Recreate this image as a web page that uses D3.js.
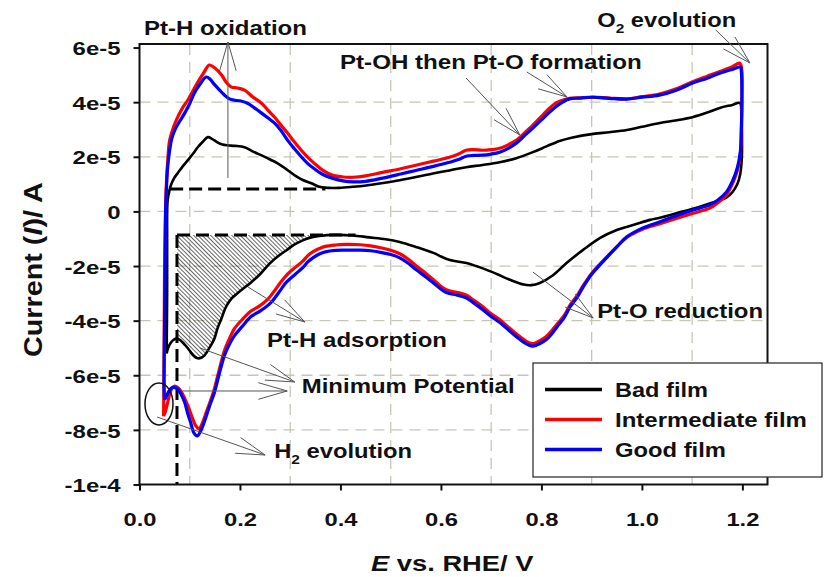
<!DOCTYPE html>
<html>
<head>
<meta charset="utf-8">
<script src="https://cdn.jsdelivr.net/npm/d3@7"></script>
<style>
  body { margin: 0; background: #fff; }
  svg { display: block; font-family: "Liberation Sans", Arial, sans-serif; font-weight: bold; }
</style>
</head>
<body>
<svg id="chart" width="825" height="577"></svg>
<script>
// ---- Axes ----
const potentialDomain = [0, 1.25];          // V vs. RHE
const currentDomain = [-1e-4, 6.13e-5];     // A
const xTicks = [0, 0.2, 0.4, 0.6, 0.8, 1.0, 1.2];
const xTickLabels = ["0.0", "0.2", "0.4", "0.6", "0.8", "1.0", "1.2"];
const yTicks = [-1e-4, -8e-5, -6e-5, -4e-5, -2e-5, 0, 2e-5, 4e-5, 6e-5];
const yTickLabels = ["-1e-4", "-8e-5", "-6e-5", "-4e-5", "-2e-5", "0", "2e-5", "4e-5", "6e-5"];
const xGrid = [0.1, 0.3, 0.5, 0.7, 0.9, 1.1];
const yGrid = [-8e-5, -6e-5, -4e-5, -2e-5, 0, 2e-5, 4e-5];

// ---- Cyclic voltammograms: [E (V), I (A)], anodic sweep then cathodic sweep ----
const badFilm = [
  [0.054,-5.2e-5],[0.055,-3.0e-5],[0.055,-1.0e-5],[0.056,0.4e-5],[0.060,0.8e-5],[0.064,1.03e-5],
  [0.070,1.25e-5],[0.076,1.4e-5],[0.086,1.65e-5],[0.096,1.87e-5],[0.106,2.1e-5],[0.116,2.35e-5],
  [0.126,2.55e-5],[0.136,2.72e-5],[0.145,2.65e-5],[0.155,2.53e-5],[0.165,2.45e-5],[0.175,2.42e-5],
  [0.19,2.4e-5],[0.209,2.35e-5],[0.225,2.2e-5],[0.243,2.05e-5],[0.26,1.9e-5],[0.275,1.76e-5],
  [0.292,1.55e-5],[0.309,1.32e-5],[0.325,1.15e-5],[0.342,1.03e-5],[0.358,0.9e-5],[0.375,0.86e-5],
  [0.398,0.86e-5],[0.425,0.9e-5],[0.451,0.95e-5],[0.485,1.04e-5],[0.518,1.14e-5],[0.55,1.26e-5],
  [0.584,1.39e-5],[0.617,1.5e-5],[0.65,1.62e-5],[0.683,1.7e-5],[0.717,1.8e-5],[0.75,1.95e-5],
  [0.783,2.17e-5],[0.81,2.38e-5],[0.836,2.58e-5],[0.86,2.7e-5],[0.903,2.84e-5],[0.935,2.9e-5],
  [0.97,2.98e-5],[1.0,3.1e-5],[1.036,3.24e-5],[1.07,3.34e-5],[1.102,3.46e-5],[1.13,3.62e-5],
  [1.155,3.79e-5],[1.18,3.9e-5],[1.195,3.97e-5],
  [1.198,3.6e-5],[1.199,3.0e-5],[1.199,2.0e-5],[1.196,1.4e-5],[1.19,1.0e-5],[1.18,0.7e-5],
  [1.168,0.5e-5],[1.15,0.38e-5],[1.135,0.29e-5],[1.102,0.1e-5],[1.07,-0.06e-5],[1.036,-0.23e-5],
  [1.016,-0.31e-5],[0.984,-0.49e-5],[0.95,-0.68e-5],[0.917,-0.97e-5],[0.883,-1.41e-5],[0.85,-1.89e-5],
  [0.823,-2.34e-5],[0.797,-2.62e-5],[0.78,-2.7e-5],[0.765,-2.68e-5],[0.737,-2.5e-5],[0.712,-2.3e-5],
  [0.691,-2.14e-5],[0.67,-2.0e-5],[0.651,-1.89e-5],[0.618,-1.78e-5],[0.6,-1.65e-5],[0.585,-1.52e-5],
  [0.55,-1.3e-5],[0.518,-1.12e-5],[0.49,-1.02e-5],[0.457,-0.95e-5],[0.424,-0.88e-5],[0.39,-0.86e-5],
  [0.358,-0.9e-5],[0.34,-0.96e-5],[0.325,-1.06e-5],[0.308,-1.22e-5],[0.292,-1.43e-5],[0.275,-1.65e-5],
  [0.259,-1.91e-5],[0.24,-2.3e-5],[0.222,-2.6e-5],[0.209,-2.79e-5],[0.195,-3.0e-5],[0.183,-3.19e-5],
  [0.172,-3.5e-5],[0.163,-3.93e-5],[0.155,-4.3e-5],[0.149,-4.66e-5],[0.139,-5.0e-5],[0.129,-5.28e-5],
  [0.12,-5.38e-5],[0.113,-5.36e-5],[0.106,-5.25e-5],[0.1,-5.1e-5],[0.092,-4.92e-5],[0.086,-4.8e-5],
  [0.08,-4.7e-5],[0.074,-4.66e-5],[0.068,-4.7e-5],[0.062,-4.82e-5],[0.057,-5.0e-5],[0.054,-5.2e-5]
];

const intermediateFilm = [
  [0.048,-7.5e-5],[0.049,-5.0e-5],[0.05,-2.0e-5],[0.052,0.2e-5],[0.054,1.2e-5],[0.056,1.8e-5],
  [0.06,2.6e-5],[0.068,3.1e-5],[0.076,3.45e-5],[0.086,3.8e-5],[0.096,4.07e-5],[0.106,4.4e-5],
  [0.115,4.7e-5],[0.127,5.05e-5],[0.139,5.36e-5],[0.15,5.25e-5],[0.163,5.0e-5],[0.173,4.72e-5],
  [0.183,4.55e-5],[0.195,4.52e-5],[0.209,4.44e-5],[0.225,4.2e-5],[0.243,3.96e-5],[0.256,3.7e-5],
  [0.269,3.45e-5],[0.282,3.15e-5],[0.295,2.86e-5],[0.308,2.55e-5],[0.322,2.24e-5],[0.335,1.98e-5],
  [0.348,1.76e-5],[0.365,1.5e-5],[0.385,1.32e-5],[0.405,1.26e-5],[0.425,1.25e-5],[0.45,1.3e-5],
  [0.484,1.43e-5],[0.52,1.56e-5],[0.55,1.69e-5],[0.585,1.84e-5],[0.617,1.98e-5],[0.635,2.1e-5],
  [0.65,2.24e-5],[0.665,2.26e-5],[0.683,2.24e-5],[0.7,2.26e-5],[0.717,2.31e-5],[0.735,2.45e-5],
  [0.75,2.6e-5],[0.765,2.85e-5],[0.783,3.16e-5],[0.8,3.48e-5],[0.816,3.78e-5],[0.83,3.98e-5],
  [0.842,4.07e-5],[0.856,4.14e-5],[0.875,4.16e-5],[0.902,4.19e-5],[0.935,4.15e-5],[0.969,4.12e-5],
  [1.0,4.2e-5],[1.035,4.3e-5],[1.07,4.5e-5],[1.101,4.75e-5],[1.13,4.95e-5],[1.155,5.12e-5],
  [1.18,5.3e-5],[1.194,5.43e-5],
  [1.198,5.3e-5],[1.199,4.0e-5],[1.198,3.0e-5],[1.196,2.1e-5],[1.19,1.5e-5],[1.18,1.0e-5],
  [1.168,0.6e-5],[1.15,0.3e-5],[1.135,0.12e-5],[1.102,-0.07e-5],[1.07,-0.25e-5],[1.036,-0.45e-5],
  [1.0,-0.66e-5],[0.97,-0.95e-5],[0.95,-1.3e-5],[0.917,-1.92e-5],[0.9,-2.27e-5],[0.883,-2.72e-5],
  [0.871,-3.08e-5],[0.857,-3.43e-5],[0.845,-3.82e-5],[0.831,-4.13e-5],[0.815,-4.48e-5],[0.803,-4.67e-5],
  [0.79,-4.8e-5],[0.781,-4.84e-5],[0.77,-4.76e-5],[0.751,-4.5e-5],[0.735,-4.25e-5],[0.718,-3.98e-5],
  [0.7,-3.75e-5],[0.684,-3.5e-5],[0.665,-3.25e-5],[0.651,-3.07e-5],[0.631,-2.96e-5],[0.615,-2.9e-5],
  [0.604,-2.8e-5],[0.585,-2.5e-5],[0.57,-2.27e-5],[0.551,-2.0e-5],[0.535,-1.75e-5],[0.518,-1.55e-5],
  [0.5,-1.42e-5],[0.48,-1.33e-5],[0.46,-1.26e-5],[0.44,-1.22e-5],[0.41,-1.21e-5],[0.39,-1.23e-5],
  [0.37,-1.28e-5],[0.358,-1.36e-5],[0.345,-1.48e-5],[0.335,-1.62e-5],[0.325,-1.82e-5],[0.31,-2.05e-5],
  [0.292,-2.35e-5],[0.28,-2.62e-5],[0.265,-3.0e-5],[0.255,-3.22e-5],[0.24,-3.45e-5],[0.222,-3.65e-5],
  [0.205,-3.95e-5],[0.189,-4.29e-5],[0.178,-4.7e-5],[0.169,-5.1e-5],[0.158,-5.85e-5],[0.149,-6.5e-5],
  [0.14,-7.0e-5],[0.133,-7.35e-5],[0.124,-7.8e-5],[0.119,-7.96e-5],[0.112,-7.85e-5],[0.105,-7.55e-5],
  [0.098,-7.2e-5],[0.09,-6.85e-5],[0.083,-6.6e-5],[0.076,-6.45e-5],[0.07,-6.4e-5],[0.064,-6.5e-5],
  [0.06,-6.7e-5],[0.056,-7.0e-5],[0.052,-7.3e-5],[0.048,-7.5e-5]
];

const goodFilm = [
  [0.05,-6.9e-5],[0.049,-6.5e-5],[0.05,-4.0e-5],[0.051,-2.0e-5],[0.052,0.0],[0.054,1.0e-5],
  [0.056,1.6e-5],[0.06,2.24e-5],[0.064,2.65e-5],[0.07,2.97e-5],[0.08,3.3e-5],[0.09,3.6e-5],
  [0.1,3.95e-5],[0.109,4.33e-5],[0.12,4.65e-5],[0.133,4.92e-5],[0.14,4.85e-5],[0.149,4.65e-5],
  [0.159,4.45e-5],[0.169,4.26e-5],[0.179,4.12e-5],[0.189,4.07e-5],[0.2,4.05e-5],[0.215,3.96e-5],
  [0.228,3.8e-5],[0.243,3.6e-5],[0.256,3.42e-5],[0.269,3.23e-5],[0.282,2.95e-5],[0.295,2.6e-5],
  [0.308,2.3e-5],[0.322,2.0e-5],[0.335,1.75e-5],[0.348,1.56e-5],[0.365,1.35e-5],[0.385,1.21e-5],
  [0.405,1.12e-5],[0.425,1.08e-5],[0.45,1.1e-5],[0.484,1.22e-5],[0.52,1.37e-5],[0.55,1.5e-5],
  [0.585,1.65e-5],[0.617,1.8e-5],[0.635,1.9e-5],[0.65,2.02e-5],[0.665,2.05e-5],[0.683,2.06e-5],
  [0.7,2.1e-5],[0.717,2.17e-5],[0.735,2.32e-5],[0.75,2.5e-5],[0.765,2.75e-5],[0.783,3.05e-5],
  [0.8,3.35e-5],[0.816,3.63e-5],[0.832,3.88e-5],[0.849,4.07e-5],[0.856,4.12e-5],[0.875,4.15e-5],
  [0.902,4.18e-5],[0.935,4.14e-5],[0.969,4.11e-5],[1.0,4.18e-5],[1.035,4.26e-5],[1.07,4.45e-5],
  [1.101,4.7e-5],[1.13,4.88e-5],[1.155,5.06e-5],[1.18,5.2e-5],[1.196,5.28e-5],
  [1.198,5.1e-5],[1.199,4.0e-5],[1.198,3.0e-5],[1.196,2.2e-5],[1.19,1.6e-5],[1.18,1.1e-5],
  [1.168,0.7e-5],[1.15,0.4e-5],[1.135,0.24e-5],[1.102,0.05e-5],[1.07,-0.15e-5],[1.036,-0.38e-5],
  [1.0,-0.62e-5],[0.97,-0.93e-5],[0.95,-1.3e-5],[0.917,-1.95e-5],[0.9,-2.3e-5],[0.883,-2.77e-5],
  [0.871,-3.15e-5],[0.857,-3.5e-5],[0.845,-3.9e-5],[0.831,-4.23e-5],[0.815,-4.6e-5],[0.803,-4.78e-5],
  [0.79,-4.9e-5],[0.781,-4.93e-5],[0.77,-4.85e-5],[0.751,-4.6e-5],[0.735,-4.35e-5],[0.718,-4.08e-5],
  [0.7,-3.85e-5],[0.684,-3.61e-5],[0.665,-3.35e-5],[0.651,-3.17e-5],[0.631,-3.06e-5],[0.615,-3.0e-5],
  [0.604,-2.9e-5],[0.585,-2.62e-5],[0.57,-2.4e-5],[0.551,-2.14e-5],[0.535,-1.9e-5],[0.518,-1.7e-5],
  [0.5,-1.58e-5],[0.48,-1.5e-5],[0.46,-1.44e-5],[0.44,-1.42e-5],[0.41,-1.42e-5],[0.39,-1.43e-5],
  [0.37,-1.48e-5],[0.358,-1.56e-5],[0.345,-1.7e-5],[0.335,-1.85e-5],[0.325,-2.06e-5],[0.31,-2.3e-5],
  [0.292,-2.6e-5],[0.28,-2.9e-5],[0.265,-3.27e-5],[0.255,-3.45e-5],[0.24,-3.65e-5],[0.222,-3.85e-5],
  [0.205,-4.2e-5],[0.189,-4.55e-5],[0.178,-4.9e-5],[0.169,-5.28e-5],[0.158,-6.0e-5],[0.149,-6.64e-5],
  [0.14,-7.1e-5],[0.133,-7.49e-5],[0.124,-7.95e-5],[0.115,-8.22e-5],[0.108,-8.1e-5],[0.103,-7.8e-5],
  [0.096,-7.4e-5],[0.09,-7.0e-5],[0.083,-6.7e-5],[0.076,-6.5e-5],[0.07,-6.45e-5],[0.064,-6.46e-5],
  [0.058,-6.6e-5],[0.054,-6.75e-5],[0.05,-6.9e-5]
];

const seriesNames = ["Bad film", "Intermediate film", "Good film"];
const seriesColors = ["#000000", "#ff0000", "#0000ff"];
const seriesData = [badFilm, intermediateFilm, goodFilm];

// Double-layer baselines used to delimit the hydrogen adsorption charge
const minimumPotential = 0.0746;     // V
const anodicBaseline = 8.2e-6;       // A
const anodicBaselineSpan = [0.061, 0.37];
const cathodicBaseline = -8.64e-6;   // A
const cathodicBaselineSpan = [0.0746, 0.43];

// Annotation text and pointer positions, in (E, I)
const notes = [
  { parts: [{ t: "Pt-H oxidation" }], at: [0.009, 6.46e-5], width: 163 },
  { parts: [{ t: "Pt-OH then Pt-O formation" }], at: [0.399, 5.215e-5], width: 302 },
  { parts: [{ t: "O" }, { t: "2", sub: true }, { t: " evolution" }], at: [0.911, 6.753e-5], width: 139 },
  { parts: [{ t: "Pt-H adsorption" }], at: [0.254, -4.965e-5], width: 180 },
  { parts: [{ t: "Minimum Potential" }], at: [0.323, -6.649e-5], width: 213 },
  { parts: [{ t: "H" }, { t: "2", sub: true }, { t: " evolution" }], at: [0.268, -9.03e-5], width: 138 },
  { parts: [{ t: "Pt-O reduction" }], at: [0.911, -3.903e-5], width: 166 }
];
const pointers = [
  [[0.176, 1.224e-5], [0.176, 6.204e-5]],
  [[0.650, 4.885e-5], [0.757, 2.798e-5]],
  [[0.771, 5.105e-5], [0.851, 4.19e-5]],
  [[1.147, 6.643e-5], [1.215, 5.435e-5]],
  [[0.783, -2.219e-5], [0.903, -3.903e-5]],
  [[0.216, -2.768e-5], [0.329, -4.05e-5]],
  [[0.120, -5.0e-5], [0.309, -6.247e-5]],
  [[0.085, -6.576e-5], [0.294, -6.576e-5]],
  [[0.035, -7.528e-5], [0.250, -8.92e-5]]
];
const circled = [0.0388, -7.05e-5];

// ---- Drawing ----
const svg = d3.select("#chart");
const plot = { left: 139.5, right: 767.5, top: 44, bottom: 484.5 };
const x = d3.scaleLinear().domain(potentialDomain).range([plot.left, plot.right]);
const y = d3.scaleLinear().domain(currentDomain).range([plot.bottom, plot.top]);

svg.append("rect").attr("width", 825).attr("height", 577).attr("fill", "#fff");

const defs = svg.append("defs");
defs.append("pattern")
  .attr("id", "hatch")
  .attr("patternUnits", "userSpaceOnUse")
  .attr("width", 3).attr("height", 3)
  .attr("patternTransform", "rotate(-45)")
  .append("line")
  .attr("x1", 0).attr("y1", 0).attr("x2", 0).attr("y2", 3)
  .attr("stroke", "#000").attr("stroke-width", 1.2);

// Grid
const grid = svg.append("g")
  .attr("stroke", "#c6c6b8").attr("stroke-width", 1.3).attr("stroke-dasharray", "11,7");
grid.selectAll(".gx").data(xGrid).join("line")
  .attr("x1", d => x(d)).attr("x2", d => x(d))
  .attr("y1", plot.top).attr("y2", plot.bottom);
grid.selectAll(".gy").data(yGrid).join("line")
  .attr("x1", plot.left).attr("x2", plot.right)
  .attr("y1", d => y(d)).attr("y2", d => y(d));

// Hydrogen adsorption region: below the cathodic baseline, above the bad-film cathodic sweep
const cathStart = badFilm.findIndex((d, i) => i > 0 && d[0] < badFilm[i - 1][0]);
const cathodicBad = badFilm.slice(cathStart);
const hatchEdge = cathodicBad.filter(d => d[0] <= 0.36 && d[0] >= minimumPotential && d[1] < cathodicBaseline);
const hatchPoly = [[minimumPotential, cathodicBaseline], [0.375, cathodicBaseline], ...hatchEdge, [minimumPotential, -4.66e-5]];
svg.append("path")
  .attr("d", d3.line().x(d => x(d[0])).y(d => y(d[1])).curve(d3.curveLinearClosed)(hatchPoly))
  .attr("fill", "url(#hatch)").attr("stroke", "none");

// Baselines (thick dashed)
const guides = svg.append("g")
  .attr("stroke", "#000").attr("stroke-width", 3).attr("stroke-dasharray", "13,6").attr("fill", "none");
guides.append("line")
  .attr("x1", x(anodicBaselineSpan[0])).attr("x2", x(anodicBaselineSpan[1]))
  .attr("y1", y(anodicBaseline)).attr("y2", y(anodicBaseline));
guides.append("line")
  .attr("x1", x(cathodicBaselineSpan[0])).attr("x2", x(cathodicBaselineSpan[1]))
  .attr("y1", y(cathodicBaseline)).attr("y2", y(cathodicBaseline));
guides.append("line")
  .attr("x1", x(minimumPotential)).attr("x2", x(minimumPotential))
  .attr("y1", y(cathodicBaseline)).attr("y2", y(currentDomain[0]));

// Voltammograms
const cv = d3.line().x(d => x(d[0])).y(d => y(d[1])).curve(d3.curveCatmullRom.alpha(0.5));
const widths = [2.6, 3.2, 3.2];
seriesData.forEach((data, i) => {
  svg.append("path")
    .attr("d", cv(data))
    .attr("fill", "none")
    .attr("stroke", seriesColors[i])
    .attr("stroke-width", widths[i])
    .attr("stroke-linejoin", "round");
});

// Frame
svg.append("rect")
  .attr("x", plot.left).attr("y", plot.top)
  .attr("width", plot.right - plot.left).attr("height", plot.bottom - plot.top)
  .attr("fill", "none").attr("stroke", "#111").attr("stroke-width", 2);

function stretchText(sel, k) {
  sel.each(function () {
    const w = this.getComputedTextLength();
    d3.select(this).attr("textLength", w * k).attr("lengthAdjust", "spacingAndGlyphs");
  });
}

// Axes
svg.append("g")
  .attr("transform", `translate(${plot.left},0)`)
  .call(d3.axisLeft(y).tickValues(yTicks).tickFormat((d, i) => yTickLabels[i])
    .tickSize(6).tickPadding(13).tickSizeOuter(0))
  .call(g => g.select(".domain").remove())
  .attr("font-family", null).attr("font-size", 18).attr("font-weight", "bold")
  .call(g => g.selectAll("line").attr("stroke", "#111").attr("stroke-width", 2))
  .call(g => g.selectAll("text").attr("fill", "#111").attr("dy", "0.4em"))
  .call(g => stretchText(g.selectAll("text"), 1.33));

svg.append("g")
  .attr("transform", `translate(0,${plot.bottom})`)
  .call(d3.axisBottom(x).tickValues(xTicks).tickFormat((d, i) => xTickLabels[i])
    .tickSize(6).tickPadding(22).tickSizeOuter(0))
  .call(g => g.select(".domain").remove())
  .attr("font-family", null).attr("font-size", 19).attr("font-weight", "bold")
  .call(g => g.selectAll("line").attr("stroke", "#111").attr("stroke-width", 2))
  .call(g => g.selectAll("text").attr("fill", "#111"))
  .call(g => stretchText(g.selectAll("text"), 1.25));

// Text placed with its left end at (px, py) and stretched to a given width
function placeLabel(parent, parts, px, py, size, width, angle = 0) {
  const g = parent.append("g").attr("transform", `translate(${px},${py}) rotate(${angle})`);
  const inner = g.append("g");
  const t = inner.append("text").attr("font-size", size).attr("font-weight", "bold").attr("fill", "#111");
  let shifted = false;
  parts.forEach(p => {
    const ts = t.append("tspan").text(p.t);
    if (p.italic) ts.attr("font-style", "italic");
    if (p.sub) {
      ts.attr("font-size", size * 0.65).attr("dy", size * 0.28);
      shifted = true;
    } else if (shifted) {
      ts.attr("dy", -size * 0.28);
      shifted = false;
    }
  });
  const w = t.node().getBBox().width;
  inner.attr("transform", `scale(${width / w},1)`);
  return g;
}

placeLabel(svg, [{ t: "E", italic: true }, { t: " vs. RHE/ V" }], 371, 571, 22, 163);
placeLabel(svg, [{ t: "Current  (" }, { t: "I", italic: true }, { t: ")/ A" }], 42, 357, 26, 175, -90);

// Annotations
const ann = svg.append("g");
const arrows = ann.append("g").attr("stroke", "#555").attr("stroke-width", 1).attr("fill", "none");
pointers.forEach(([a, b]) => {
  const x1 = x(a[0]), y1 = y(a[1]), x2 = x(b[0]), y2 = y(b[1]);
  const ang = Math.atan2(y1 - y2, x1 - x2);
  const L = 30, spread = 0.28;
  arrows.append("path").attr("d",
    `M${x1},${y1}L${x2},${y2}` +
    `M${x2 + L * Math.cos(ang - spread)},${y2 + L * Math.sin(ang - spread)}L${x2},${y2}` +
    `L${x2 + L * Math.cos(ang + spread)},${y2 + L * Math.sin(ang + spread)}`);
});
ann.append("ellipse")
  .attr("cx", x(circled[0])).attr("cy", y(circled[1]))
  .attr("rx", 14).attr("ry", 21)
  .attr("fill", "none").attr("stroke", "#111").attr("stroke-width", 1.5);

notes.forEach(n => placeLabel(ann, n.parts, x(n.at[0]), y(n.at[1]), 20, n.width));

// Legend
const legend = svg.append("g");
legend.append("rect")
  .attr("x", 533).attr("y", 363).attr("width", 289).attr("height", 114)
  .attr("fill", "#fff").attr("stroke", "#333").attr("stroke-width", 1.3);
const legendWidths = [93, 192, 111];
seriesNames.forEach((name, i) => {
  const cy = 389.5 + i * 30;
  legend.append("line")
    .attr("x1", 545).attr("x2", 602).attr("y1", cy).attr("y2", cy)
    .attr("stroke", seriesColors[i]).attr("stroke-width", 3.5);
  placeLabel(legend, [{ t: name }], 615, cy + 7.5, 21, legendWidths[i]);
});
</script>
</body>
</html>
